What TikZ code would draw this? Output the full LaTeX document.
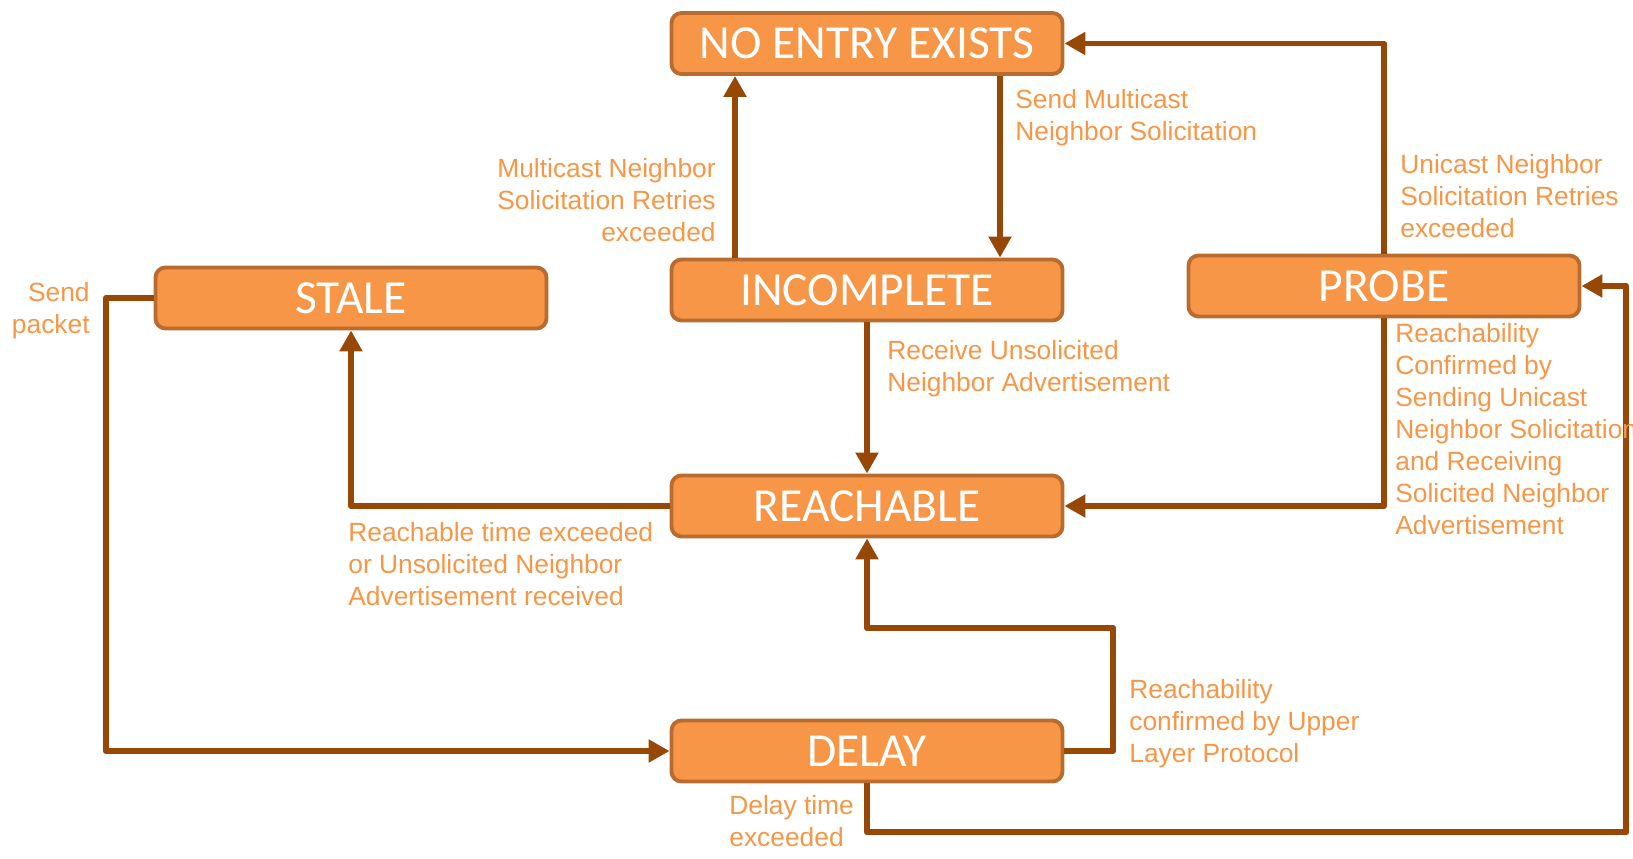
\documentclass[tikz,border=0pt]{standalone}
\usepackage{fontspec}
\setmainfont{Liberation Sans}
\newfontfamily\boxfont{Carlito}
\usetikzlibrary{arrows.meta}
\definecolor{boxorange}{RGB}{247,150,70}
\definecolor{boxedge}{RGB}{184,108,48}
\definecolor{flowbrown}{RGB}{152,72,6}

\begin{document}
\begin{tikzpicture}[line join=round,
  state/.style={draw=boxedge,line width=2.2pt,fill=boxorange,rounded corners=0.2cm,
    minimum width=7.82cm,minimum height=1.22cm,inner sep=0pt,text=white,
    font=\boxfont\fontsize{27}{30}\selectfont},
  flow/.style={draw=flowbrown,line width=3.4pt,-{Triangle[length=0.42cm,width=0.44cm]}},
  lbl/.style={inner sep=0pt,text=boxorange,font=\fontsize{15}{18.2}\selectfont}]
  \useasboundingbox (0,0) rectangle (32.66,17.16);
  % states
  \node[state] (noentry)    at (17.34,16.29) {NO ENTRY EXISTS};
  \node[state] (incomplete) at (17.34,11.36) {INCOMPLETE};
  \node[state] (stale)      at (7.02,11.20)  {STALE};
  \node[state] (probe)      at (27.68,11.44) {PROBE};
  \node[state] (reachable)  at (17.34,7.04)  {REACHABLE};
  \node[state] (delay)      at (17.34,2.14)  {DELAY};
  % transitions
  \draw[flow] ([xshift=-2.64cm]incomplete.north) -- ([xshift=-2.64cm]noentry.south);
  \draw[flow] ([xshift=2.66cm]noentry.south) -- ([xshift=2.66cm]incomplete.north);
  \draw[flow] (probe.north) |- (noentry.east);
  \draw[flow] (incomplete.south) -- (reachable.north);
  \draw[flow] (probe.south) |- (reachable.east);
  \draw[flow] (reachable.west) -| (stale.south);
  \draw[flow] (stale.west) -- ++(-0.96,0) |- (delay.west);
  \draw[flow] (delay.east) -- ++(0.98,0) -- ++(0,2.46) -| (reachable.south);
  \draw[flow] (delay.south) -- ++(0,-0.98) -| ([xshift=0.9cm]probe.east) -- (probe.east);
  % labels
  \node[lbl,anchor=west,align=left]  (sendmc)    at (20.30,14.80) {Send Multicast\\Neighbor Solicitation};
  \node[lbl,anchor=east,align=right] (mcretry)   at (14.32,13.16) {Multicast Neighbor\\Solicitation Retries\\exceeded};
  \node[lbl,anchor=west,align=left]  (ucretry)   at (28.00,13.24) {Unicast Neighbor\\Solicitation Retries\\exceeded};
  \node[lbl,anchor=east,align=right] (sendpkt)   at (1.80,10.94)  {Send\\packet};
  \node[lbl,anchor=west,align=left]  (recvunsol) at (17.74,9.78)  {Receive Unsolicited\\Neighbor Advertisement};
  \node[lbl,anchor=west,align=left]  (probeconf) at (27.90,8.58)  {Reachability\\Confirmed by\\Sending Unicast\\Neighbor Solicitation\\and Receiving\\Solicited Neighbor\\Advertisement};
  \node[lbl,anchor=west,align=left]  (reachtime) at (6.96,5.88)   {Reachable time exceeded\\or Unsolicited Neighbor\\Advertisement received};
  \node[lbl,anchor=west,align=left]  (upperconf) at (22.58,2.68)  {Reachability\\confirmed by Upper\\Layer Protocol};
  \node[lbl,anchor=west,align=left]  (delaytime) at (14.58,0.74)  {Delay time\\exceeded};
\end{tikzpicture}
\end{document}
